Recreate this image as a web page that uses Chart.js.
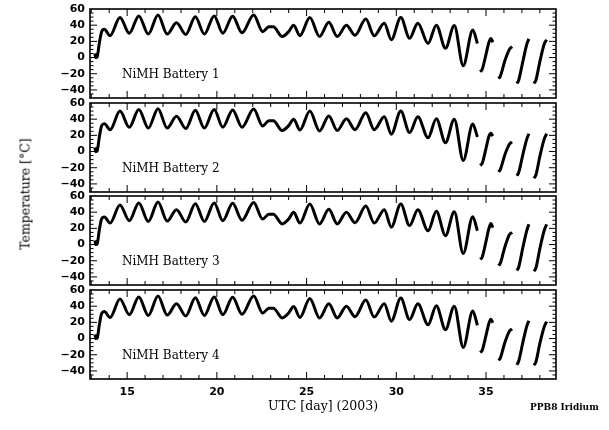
<!DOCTYPE html>
<html>
<head>
<meta charset="utf-8">
<script src="https://cdn.jsdelivr.net/npm/chart.js@4.4.1/dist/chart.umd.min.js"></script>
<style>
  body { margin: 0; background: #fff; width: 609px; height: 430px; position: relative; overflow: hidden; }
  canvas { position: absolute; left: 0; }
  #ylabel {
    position: absolute; left: 25px; top: 194px;
    transform: translate(-50%, -50%) rotate(-90deg);
    font: 12.5px "DejaVu Serif"; white-space: nowrap; color: #000;
  }
  #credit { position: absolute; left: 530px; top: 402px; font: bold 9px "DejaVu Serif"; color: #000; }
</style>
</head>
<body>
<canvas id="panel1" width="609" height="105" style="top:1px"></canvas>
<canvas id="panel2" width="609" height="105" style="top:95px"></canvas>
<canvas id="panel3" width="609" height="105" style="top:188px"></canvas>
<canvas id="panel4" width="609" height="148" style="top:282px"></canvas>
<div id="ylabel">Temperature [°C]</div>
<div id="credit">PPB8 Iridium</div>
<script>
// UTC day of each sample; null temps mark the breaks between segments
const days = [
  13.20, 13.26, 13.33, 13.45, 13.58, 13.73, 14.05, 14.60, 15.12, 15.65,
  16.18, 16.72, 17.23, 17.75, 18.27, 18.80, 19.30, 19.85, 20.33, 20.88,
  21.40, 22.05, 22.55, 22.90, 23.15, 23.64, 24.00, 24.28, 24.63, 25.18,
  25.72, 26.24, 26.71, 27.22, 27.70, 28.30, 28.77, 29.33, 29.72, 30.25,
  30.74, 31.20, 31.77, 32.23, 32.74, 33.23, 33.73, 34.26, 34.52,
  34.60,
  34.67, 34.78, 35.00, 35.15, 35.27, 35.38,
  35.55,
  35.70, 35.80, 36.05, 36.30, 36.45,
  36.60,
  36.72, 36.82, 37.05, 37.28, 37.39,
  37.55,
  37.67, 37.78, 38.00, 38.25, 38.38
];

const battery1 = [
  5, 0, 1, 18, 32, 35, 27, 49.5, 30, 51.5,
  29, 52.5, 29, 43, 28.5, 50.5, 29, 51.5, 30, 51,
  30.5, 52.5, 32, 38, 38, 26, 32, 40, 27, 49.5,
  26, 43.5, 26, 40, 27.5, 47.5, 27, 42.5, 22, 49.5,
  24, 42.5, 17.5, 40, 11.5, 39.5, -10, 34, 17.5,
  null,
  -17.5, -15, 4, 18, 23.5, 19,
  null,
  -26, -23, -4, 10, 13.5,
  null,
  -32, -28, -5, 17, 23,
  null,
  -32, -28, -5, 17, 22
];

const battery2 = [
  5, 0, 1, 18, 32, 34.5, 27, 50, 30, 52,
  29, 53, 29, 43.5, 28.5, 51, 29, 52, 30, 51.5,
  30, 52.5, 31.5, 38, 38, 26, 32, 40, 26.5, 50,
  25.5, 44, 26, 40.5, 27, 48, 27, 43, 21.5, 50,
  23.5, 43, 17, 40.5, 11, 40, -11, 34, 18,
  null,
  -17, -15, 4, 18, 22.5, 19,
  null,
  -25, -22, -4, 9, 12,
  null,
  -30, -26, -4, 16, 22,
  null,
  -33, -29, -6, 16, 22
];

const battery3 = [
  5, 0, 1, 18, 32, 34, 26.5, 49, 29.5, 51.5,
  28.5, 52.5, 29, 43, 28, 50.5, 28.5, 51.5, 29.5, 51,
  30, 52, 31.5, 37.5, 37.5, 25.5, 31.5, 40, 26.5, 50,
  25.5, 43.5, 25.5, 40, 27, 47.5, 26.5, 43, 21.5, 50,
  23.5, 43, 17, 41, 11, 40.5, -11, 34.5, 17,
  null,
  -18, -16, 4, 19, 26, 21,
  null,
  -26, -23, -3, 12, 15,
  null,
  -32, -28, -4, 18, 25,
  null,
  -33, -29, -5, 18, 25
];

const battery4 = [
  5, 0, 0.5, 17, 31, 33.5, 26, 49, 29.5, 51.5,
  28.5, 52.5, 29, 43, 28, 50.5, 28.5, 51.5, 29.5, 51,
  30, 52.5, 31.5, 37.5, 37.5, 25.5, 31.5, 39.5, 26, 49.5,
  25.5, 43, 25.5, 40, 27, 47.5, 26.5, 43, 21.5, 50,
  23.5, 43, 17, 40.5, 11, 40, -11, 34, 16.5,
  null,
  -17, -15, 4, 18, 24, 19.5,
  null,
  -27, -24, -5, 9, 12,
  null,
  -32.5, -28, -5, 16, 22,
  null,
  -33, -29, -6, 15, 21
];

const batteryNames = ["NiMH Battery 1", "NiMH Battery 2", "NiMH Battery 3", "NiMH Battery 4"];
const xTicks = [15, 20, 25, 30, 35];
const yTicks = [-40, -20, 0, 20, 40, 60];

const X_MIN = 12.93;
const X_MAX = 38.9;
const Y_MIN = -50;
const Y_MAX = 60;
const LABEL_DAY = 14.71;
const LABEL_TEMP = -22;

// box round the panel, ticks pointing inward on all four sides, battery name
const framePlugin = {
  id: "frame",
  afterDatasetsDraw(chart, args, opts) {
    const { ctx, chartArea: a } = chart;
    const x = chart.scales.x;
    const y = chart.scales.y;
    ctx.save();
    ctx.strokeStyle = "#000";
    ctx.lineWidth = 1.6;
    ctx.strokeRect(a.left, a.top, a.right - a.left, a.bottom - a.top);
    ctx.lineWidth = 1;
    ctx.beginPath();
    for (let d = 13; d <= 38; d++) {
      const px = x.getPixelForValue(d);
      const len = d % 5 === 0 ? 7 : 4;
      ctx.moveTo(px, a.bottom);
      ctx.lineTo(px, a.bottom - len);
      ctx.moveTo(px, a.top);
      ctx.lineTo(px, a.top + len);
    }
    for (let v = Y_MIN + 5; v < Y_MAX; v += 5) {
      const py = y.getPixelForValue(v);
      const len = v % 20 === 0 ? 7 : 3.5;
      ctx.moveTo(a.left, py);
      ctx.lineTo(a.left + len, py);
      ctx.moveTo(a.right, py);
      ctx.lineTo(a.right - len, py);
    }
    ctx.stroke();
    ctx.fillStyle = "#000";
    ctx.font = '12px "DejaVu Serif"';
    ctx.textBaseline = "middle";
    ctx.textAlign = "left";
    ctx.fillText(opts.label, x.getPixelForValue(LABEL_DAY), y.getPixelForValue(LABEL_TEMP));
    ctx.restore();
  },
};

const tickFont = { family: "DejaVu Sans", weight: "bold", size: 11 };

// stop the axes from asking the layout for extra room round the tick labels
function noPadding(s) {
  s.paddingTop = 0;
  s.paddingBottom = 0;
  s.paddingLeft = 0;
  s.paddingRight = 0;
}

function makePanel(id, temps, name, bottom) {
  return new Chart(document.getElementById(id), {
    type: "line",
    data: {
      datasets: [
        {
          data: days.map((d, i) => ({ x: d, y: temps[i] })),
          borderColor: "#000",
          borderWidth: 3,
          pointRadius: 0,
          cubicInterpolationMode: "monotone",
          spanGaps: false,
        },
      ],
    },
    options: {
      responsive: false,
      animation: false,
      layout: { padding: { left: 0, right: 53, top: 8, bottom: bottom ? 0 : 8 } },
      plugins: {
        legend: { display: false },
        tooltip: { enabled: false },
        frame: { label: name },
      },
      scales: {
        x: {
          type: "linear",
          min: X_MIN,
          max: X_MAX,
          display: bottom,
          afterBuildTicks: (s) => {
            s.ticks = xTicks.map((v) => ({ value: v }));
          },
          afterFit: (s) => {
            s.height = bottom ? 51 : 0;
            noPadding(s);
          },
          grid: { display: false, drawTicks: false },
          border: { display: false },
          ticks: { padding: 7, color: "#000", font: tickFont, maxRotation: 0 },
          title: {
            display: true,
            text: "UTC [day] (2003)",
            color: "#000",
            font: { family: "DejaVu Serif", size: 12.5 },
            padding: { top: 0, bottom: 16 },
          },
        },
        y: {
          type: "linear",
          min: Y_MIN,
          max: Y_MAX,
          afterBuildTicks: (s) => {
            s.ticks = yTicks.map((v) => ({ value: v }));
          },
          afterFit: (s) => {
            s.width = 90;
            noPadding(s);
          },
          grid: { display: false, drawTicks: false },
          border: { display: false },
          ticks: {
            padding: 5,
            color: "#000",
            font: tickFont,
            autoSkip: false,
            callback: (v) => (v < 0 ? "\u2212" : "") + Math.abs(v),
          },
        },
      },
    },
    plugins: [framePlugin],
  });
}

makePanel("panel1", battery1, batteryNames[0], false);
makePanel("panel2", battery2, batteryNames[1], false);
makePanel("panel3", battery3, batteryNames[2], false);
makePanel("panel4", battery4, batteryNames[3], true);
</script>
</body>
</html>
